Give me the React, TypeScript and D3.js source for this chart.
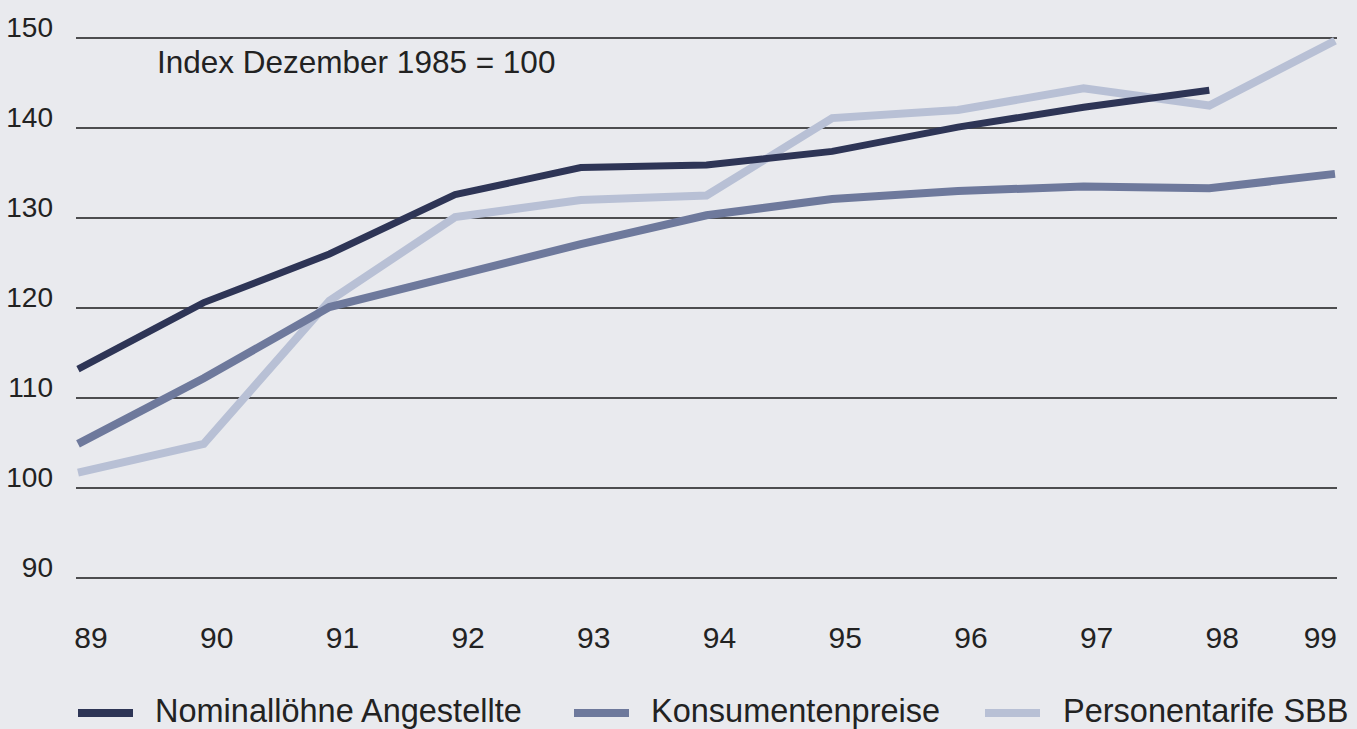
import React from "react";
import * as d3 from "d3";

const years = ["89", "90", "91", "92", "93", "94", "95", "96", "97", "98", "99"];
const yTicks = [90, 100, 110, 120, 130, 140, 150];
const nominalloehne = [113.2, 120.6, 126.0, 132.6, 135.6, 135.9, 137.4, 140.1, 142.3, 144.2];
const konsumentenpreise = [104.9, 112.2, 120.1, 123.6, 127.1, 130.3, 132.1, 133.0, 133.5, 133.3, 134.9];
const personentarife = [101.7, 104.9, 120.8, 130.1, 132.0, 132.5, 141.1, 142.0, 144.4, 142.5, 149.7];
const seriesNames = ["Nominallöhne Angestellte", "Konsumentenpreise", "Personentarife SBB"];

const W = 1357;
const H = 729;
const FONT = "'Liberation Sans', Arial, Helvetica, sans-serif";

export default function App() {
  const x = d3.scaleLinear().domain([0, years.length - 1]).range([78, 1335]);
  const y = d3.scaleLinear().domain([90, 150]).range([578, 38]);
  const line = d3
    .line<number>()
    .x((_, i) => x(i))
    .y((d) => y(d));

  const series = [
    { name: seriesNames[2], values: personentarife, color: "#b8c0d5", width: 8 },
    { name: seriesNames[1], values: konsumentenpreise, color: "#6e799c", width: 8 },
    { name: seriesNames[0], values: nominalloehne, color: "#2e3556", width: 7 },
  ];
  const legend = [
    { name: seriesNames[0], color: "#2e3556", sx: 78, tx: 155 },
    { name: seriesNames[1], color: "#6e799c", sx: 574, tx: 651 },
    { name: seriesNames[2], color: "#b8c0d5", sx: 985, tx: 1063 },
  ];

  return (
    <div style={{ position: "absolute", left: 0, top: 0 }}>
      <svg width={W} height={H} style={{ display: "block" }}>
        <rect x={0} y={0} width={W} height={H} fill="#e9eaee" />
        {yTicks.map((t) => (
          <g key={t}>
            <line x1={76} x2={1337} y1={y(t)} y2={y(t)} stroke="#4d4d4f" strokeWidth={2} />
            <text
              x={53}
              y={y(t) - 1}
              textAnchor="end"
              fontFamily={FONT}
              fontSize={28}
              fill="#222"
            >
              {t}
            </text>
          </g>
        ))}
        <text x={157} y={73} fontFamily={FONT} fontSize={31.5} fill="#222">
          Index Dezember 1985 = 100
        </text>
        {years.map((yr, i) => (
          <text
            key={yr}
            x={i === years.length - 1 ? x(i) + 2 : x(i) + 13}
            y={648}
            textAnchor={i === years.length - 1 ? "end" : "middle"}
            fontFamily={FONT}
            fontSize={30}
            fill="#222"
          >
            {yr}
          </text>
        ))}
        {series.map((s) => (
          <path
            key={s.name}
            d={line(s.values) || ""}
            fill="none"
            stroke={s.color}
            strokeWidth={s.width}
            strokeLinejoin="miter"
            strokeLinecap="butt"
          />
        ))}
        {legend.map((l) => (
          <g key={l.name}>
            <rect x={l.sx} y={709} width={55} height={8} fill={l.color} />
            <text x={l.tx} y={722} fontFamily={FONT} fontSize={32.5} fill="#222">
              {l.name}
            </text>
          </g>
        ))}
      </svg>
    </div>
  );
}
